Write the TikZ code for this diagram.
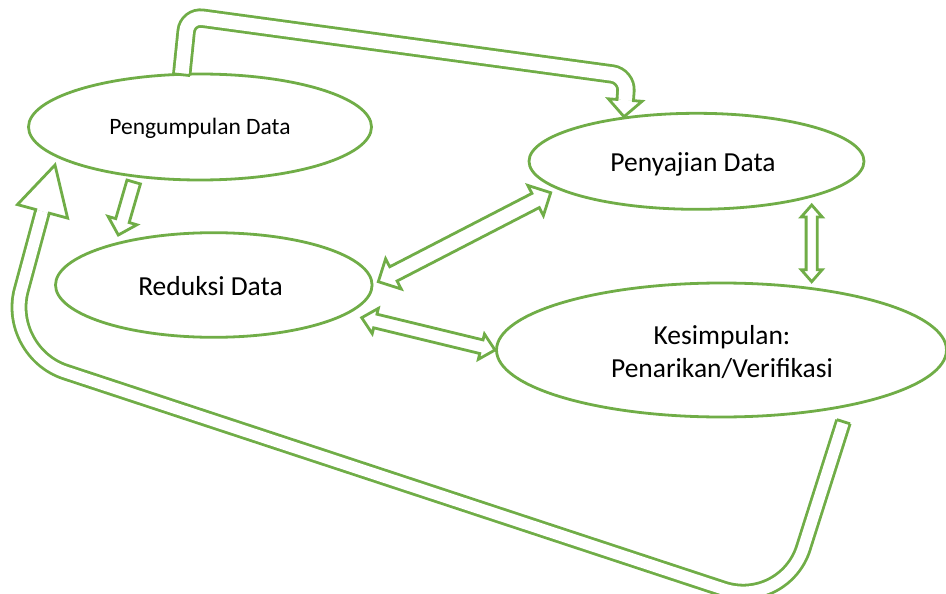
\documentclass[tikz,border=0pt]{standalone}
\usepackage{fontspec}
\setmainfont{Carlito}
\usetikzlibrary{calc,shapes.geometric}
\definecolor{leaf}{HTML}{70AD47}

\tikzset{
  oval/.style={ellipse, draw=leaf, line width=2.8pt, fill=white, inner sep=0pt, outer sep=0pt},
  blk/.style={draw=leaf, line width=2.8pt, fill=white, line join=miter, miter limit=10},
  band/.style={draw=leaf, line width=2.8pt, double=white, double distance=#1},
  tailedge/.style={draw=leaf, line width=2.8pt, line cap=square},
  lbl/.style={anchor=base, inner sep=0pt, text=black, align=center},
  bigtext/.style={font=\fontsize{27.5}{33}\selectfont},
  smalltext/.style={font=\fontsize{23.5}{28}\selectfont},
}

% straight block arrow with a head at both ends
% #1,#2 tips, #3 shaft half width, #4 head half width, #5 head length
\newcommand\twoheads[5]{%
  \path ($(#1)!#5!(#2)$) coordinate (th-a) ($(#2)!#5!(#1)$) coordinate (th-b);
  \draw[blk] (#1) -- ($(th-a)!#4!90:(#2)$) -- ($(th-a)!#3!90:(#2)$)
    -- ($(th-b)!#3!-90:(#1)$) -- ($(th-b)!#4!-90:(#1)$) -- (#2)
    -- ($(th-b)!#4!90:(#1)$) -- ($(th-b)!#3!90:(#1)$)
    -- ($(th-a)!#3!-90:(#2)$) -- ($(th-a)!#4!-90:(#2)$) -- cycle;}

% straight block arrow, #1 tail, #2 tip
\newcommand\onehead[5]{%
  \path ($(#2)!#5!(#1)$) coordinate (oh-c);
  \draw[blk] ($(#1)!#3!90:(#2)$) -- ($(oh-c)!#3!-90:(#1)$) -- ($(oh-c)!#4!-90:(#1)$)
    -- (#2) -- ($(oh-c)!#4!90:(#1)$) -- ($(oh-c)!#3!90:(#1)$)
    -- ($(#1)!#3!-90:(#2)$) -- cycle;}

% head closing a curved band: #1 base middle, #2 tip, #3 band half width, #4 head half width
\newcommand\bandhead[4]{%
  \path ($(#1)!-2pt!(#2)$) coordinate (bh-k)
    ($(#1)!#3!90:(#2)$) coordinate (bh-sa) ($(#1)!#3!-90:(#2)$) coordinate (bh-sb)
    ($(bh-k)!#3!90:(#2)$) coordinate (bh-ka) ($(bh-k)!#3!-90:(#2)$) coordinate (bh-kb)
    ($(#1)!#4!90:(#2)$) coordinate (bh-ca) ($(#1)!#4!-90:(#2)$) coordinate (bh-cb);
  \fill[white] (bh-ca) -- (#2) -- (bh-cb) -- cycle;
  \draw[leaf, line width=2.8pt, line join=miter]
    (bh-ka) -- (bh-sa) -- (bh-ca) -- (#2) -- (bh-cb) -- (bh-sb) -- (bh-kb);}

\begin{document}
\begin{tikzpicture}[x=1pt,y=-1pt]
\useasboundingbox (0,0) rectangle (946,594);
\clip (0,0) rectangle (946,594);

% the four stages
\node[oval, minimum width=343pt, minimum height=106pt] (peng) at (200,127) {};
\node[oval, minimum width=316.6pt, minimum height=104.6pt] (red) at (213.8,285) {};
\node[oval, minimum width=335pt, minimum height=96pt] (pen) at (696.5,161.3) {};
\node[oval, minimum width=450pt, minimum height=134pt] (kes) at (721.5,350) {};

\node[lbl, smalltext] (pengT) at ($(peng.center)+(0,8)$) {Pengumpulan Data};
\node[lbl, bigtext] (redT) at ($(red.center)+(-3.3,10.7)$) {Reduksi Data};
\node[lbl, bigtext] (penT) at ($(pen.center)+(-3.5,10.4)$) {Penyajian Data};
\node[lbl, bigtext] (kesT) at ($(kes.center)+(0.5,27.5)$) {Kesimpulan:\\Penarikan/Verifikasi};

% two-way links
\coordinate (rp1) at ($(red.center)+(164.5,-3.3)$);
\coordinate (rp2) at ($(pen.center)+(-145.8,31.4)$);
\twoheads{rp1}{rp2}{8pt}{17pt}{17pt}

\coordinate (rk1) at ($(red.center)+(147.9,32.7)$);
\coordinate (rk2) at ($(kes.center)+(-226.5,0)$);
\twoheads{rk1}{rk2}{7pt}{13pt}{14pt}

\coordinate (pk1) at ($(pen.center)+(115.2,43.7)$);
\coordinate (pk2) at ($(kes.center)+(90.2,-68.3)$);
\twoheads{pk1}{pk2}{5.6pt}{10.5pt}{12pt}

% collection to reduction
\coordinate (pr1) at ($(peng.center)+(-66.3,55)$);
\coordinate (pr2) at ($(red.center)+(-95.5,-50)$);
\onehead{pr1}{pr2}{7pt}{15pt}{15pt}

% bent arrow over the top: collection to display
\coordinate (up0) at ($(peng.center)+(-18.3,-52.3)$);
\coordinate (up1) at (187.7,16.2);
\coordinate (up2) at (627,76);
\coordinate (upTip) at ($(pen.center)+(-72.5,-44.6)$);
\coordinate (upBase) at ($(upTip)!16.7pt!(up2)$);
\draw[band=13.7pt, rounded corners=15pt] (up0) -- (up1) -- (up2) -- (upBase);
\draw[tailedge] ($(up0)!8.25pt!90:(up1)$) -- ($(up0)!8.25pt!-90:(up1)$);
\bandhead{upBase}{upTip}{8.25pt}{16.9pt}

% return loop: conclusion back to collection
\coordinate (lo0) at ($(kes.center)+(121.9,71.7)$);
\coordinate (lo1) at (784,609);
\coordinate (lo2) at (4.6,352);
\coordinate (loTip) at ($(peng.center)+(-145,38)$);
\coordinate (loBase) at ($(loTip)!48pt!(lo2)$);
\draw[band=11.2pt, rounded corners=64pt] (lo0) -- (lo1) -- (lo2) -- (loBase);
\draw[tailedge] ($(lo0)!7pt!90:(lo1)$) -- ($(lo0)!7pt!-90:(lo1)$);
\bandhead{loBase}{loTip}{7pt}{26pt}
\end{tikzpicture}
\end{document}
